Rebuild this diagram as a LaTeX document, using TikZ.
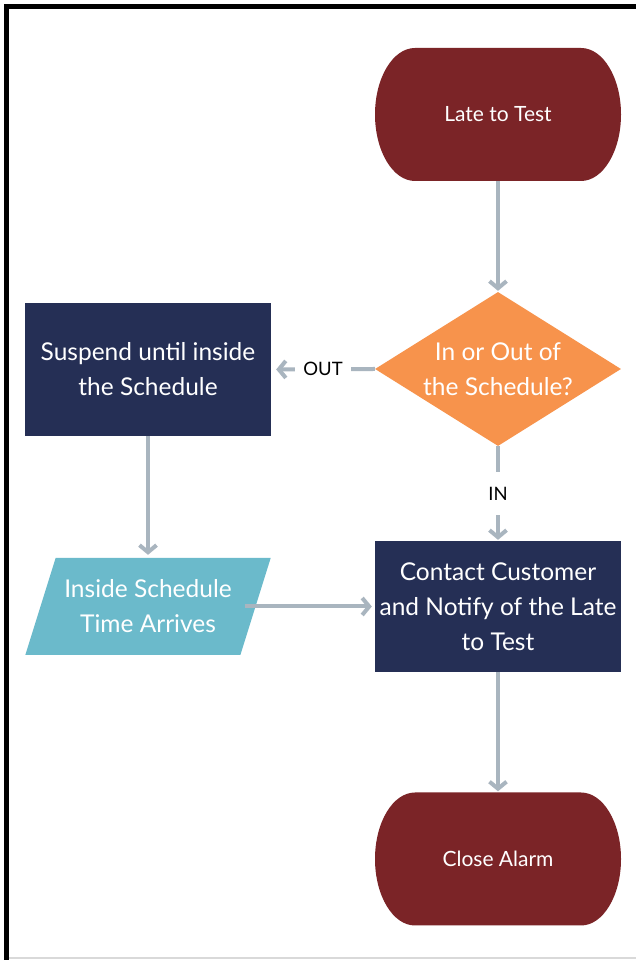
\documentclass[tikz,border=0pt]{standalone}
\usepackage{fontspec}
\setmainfont{Lato}
\usetikzlibrary{arrows.meta,shapes.geometric,calc}
\definecolor{termred}{HTML}{7B2427}
\definecolor{navy}{HTML}{252F55}
\definecolor{orng}{HTML}{F7934C}
\definecolor{teal}{HTML}{6BBACB}
\definecolor{arrowc}{HTML}{A9B5BF}
\tikzset{
  terminal/.style={minimum width=246pt, minimum height=133pt, inner sep=0pt, text=white,
    font=\fontsize{21}{24}\selectfont,
    path picture={\fill[termred]
      ([xshift=-40pt]path picture bounding box.north east)
      arc[start angle=90, end angle=-90, x radius=40pt, y radius=66.5pt]
      -- ([xshift=40pt]path picture bounding box.south west)
      arc[start angle=270, end angle=90, x radius=40pt, y radius=66.5pt] -- cycle;}},
  process/.style={fill=navy, minimum width=246pt, minimum height=133pt, inner sep=0pt, text=white,
    align=center, font=\fontsize{24.5}{35}\selectfont},
  decision/.style={diamond, fill=orng, minimum width=246pt, minimum height=154pt, inner sep=0pt,
    aspect=1.6, text=white, align=center, font=\fontsize{24.5}{35}\selectfont},
  io/.style={trapezium, trapezium left angle=62.7, trapezium right angle=117.3, trapezium stretches=true,
    fill=teal, minimum width=246pt, minimum height=97pt, inner sep=0pt, text=white, align=center,
    font=\fontsize{24.5}{35}\selectfont},
  arr/.style={draw=arrowc, line width=4pt, -{Straight Barb[length=7pt,width=17pt]}},
  lbl/.style={fill=white, text=black, font=\fontsize{18.5}{18.5}\selectfont, inner sep=0pt}
}
\begin{document}
\begin{tikzpicture}[x=1pt,y=1pt]
\useasboundingbox (0,0) rectangle (636,960);
\fill[white] (0,0) rectangle (636,960);
% frame
\fill[black] (4,951) rectangle (636,956);
\fill[black] (4,0) rectangle (9,956);
\fill[black!15] (9,1) rectangle (636,3);
% nodes
\node[terminal] (a) at (498,845.5) {Late to Test};
\node[decision] (d) at (498,591) {In or Out of\\the Schedule?};
\node[process] (s) at (148,590.5) {Suspend until inside\\the Schedule};
\node[io] (p) at (148,353.5) {Inside Schedule\\Time Arrives};
\node[process, minimum height=131pt] (c) at (498,353.5) {Contact Customer\\and Notify of the Late\\to Test};
\node[terminal] (e) at (498,101) {Close Alarm};
\coordinate (pr) at ($(p.center)+(97,0)$);
% connectors
\draw[arr, shorten >=1pt] (a.south) -- (d.north);
\draw[arr, shorten >=5pt] (d.west) -- node[lbl, minimum width=56pt, minimum height=20pt] {OUT} (s.east);
\draw[arr, shorten >=1pt] (d.south) -- node[lbl, minimum width=24pt, minimum height=43pt] {IN} (c.north);
\draw[arr, shorten >=3pt] (s.south) -- (s.south |- p.north);
\draw[arr, shorten >=3pt] (pr) -- (pr -| c.west);
\draw[arr, shorten >=1pt] (c.south) -- (e.north);
\end{tikzpicture}
\end{document}
